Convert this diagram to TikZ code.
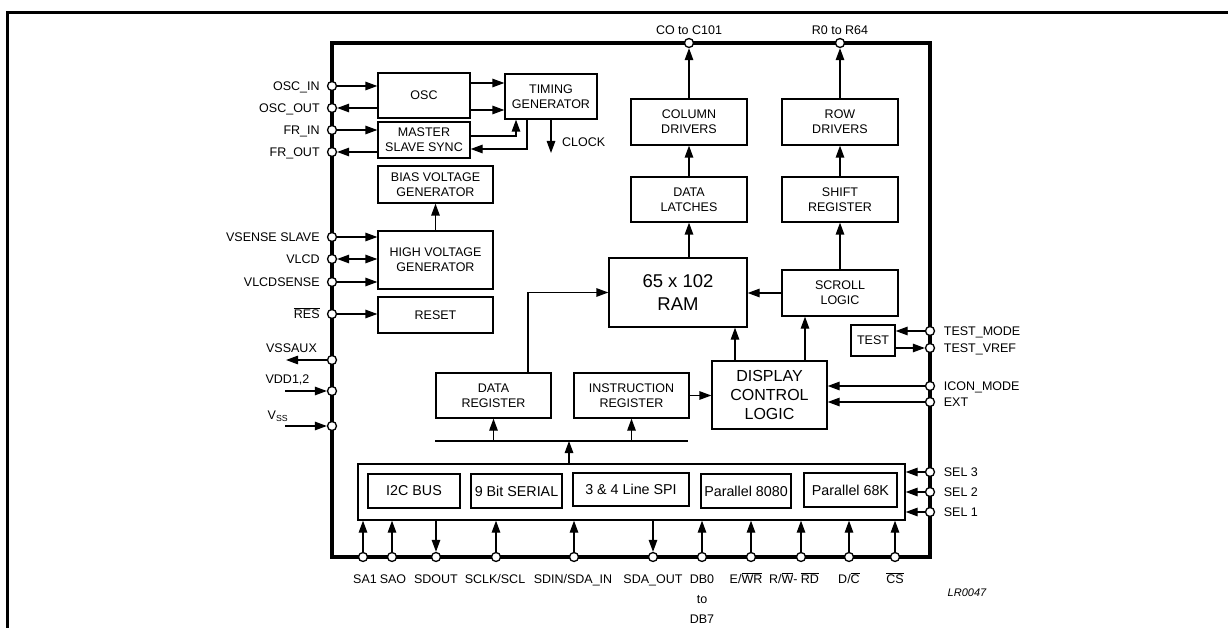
\documentclass[tikz,border=0pt]{standalone}
\usepackage{fontspec}
\setmainfont{Liberation Sans}
\usetikzlibrary{arrows.meta,positioning,calc}

\newcommand{\barsig}[1]{$\overline{\mbox{#1}}$}

\tikzset{
  blk/.style={draw, line width=1.3pt, align=center, inner sep=1pt, font=\fontsize{12.5}{15}\selectfont},
  ifbox/.style={blk, minimum height=34pt, font=\fontsize{14.3}{16}\selectfont},
  pin/.style={circle, draw, fill=white, line width=1.3pt, inner sep=0pt, minimum size=9pt},
  lbl/.style={font=\fontsize{12.5}{15}\selectfont, inner sep=1pt},
  pinlbl/.style={lbl, text height=9pt, text depth=0pt},
  arr/.style={line width=1.3pt, -{Triangle[length=12pt,width=8.5pt]}},
  darr/.style={line width=1.3pt, {Triangle[length=12pt,width=8.5pt]}-{Triangle[length=12pt,width=8.5pt]}},
}

\begin{document}
\begin{tikzpicture}[x=1pt,y=-1pt]
    \useasboundingbox (0,0) rectangle (1228,628);
    % page frame
    \draw[line width=3pt] (7,629) -- (7,13) -- (1229,13);

    % chip outline
    \node[draw, line width=3.2pt, minimum width=598pt, minimum height=514pt, inner sep=0pt] (chip) at (631,300) {};

    % clock section
    \node[blk, minimum width=92pt, minimum height=45pt] (osc) at (424,95.5) {OSC};
    \node[blk, minimum width=92pt, minimum height=45pt] (timgen) at (551,96.5) {TIMING\\GENERATOR};
    \node[blk, minimum width=92pt, minimum height=36pt] (mss) at (424,140) {MASTER\\SLAVE SYNC};

    % voltage section
    \node[blk, minimum width=115pt, minimum height=37pt] (bias) at (435.5,184.5) {BIAS VOLTAGE\\GENERATOR};
    \node[blk, minimum width=115pt, minimum height=58pt] (hv) at (435.5,260) {HIGH VOLTAGE\\GENERATOR};
    \node[blk, minimum width=115pt, minimum height=36pt] (reset) at (435.5,315) {RESET};

    % drivers and memory
    \node[blk, minimum width=116pt, minimum height=46pt] (coldrv) at (689,122) {COLUMN\\DRIVERS};
    \node[blk, minimum width=116pt, minimum height=46pt] (rowdrv) at (840,122) {ROW\\DRIVERS};
    \node[blk, minimum width=116pt, minimum height=45pt] (latch) at (689,199.5) {DATA\\LATCHES};
    \node[blk, minimum width=116pt, minimum height=45pt] (shift) at (840,199.5) {SHIFT\\REGISTER};
    \node[blk, minimum width=138pt, minimum height=69pt, font=\fontsize{18.5}{23}\selectfont] (ram) at (678,292.5) {65 x 102\\RAM};
    \node[blk, minimum width=116pt, minimum height=46pt] (scroll) at (840,293) {SCROLL\\LOGIC};
    \node[blk, minimum width=44pt, minimum height=31pt] (test) at (873,340.5) {TEST};

    % registers and control
    \node[blk, minimum width=115pt, minimum height=45pt] (dreg) at (493.5,395.5) {DATA\\REGISTER};
    \node[blk, minimum width=115pt, minimum height=45pt] (ireg) at (631.5,395.5) {INSTRUCTION\\REGISTER};
    \node[blk, minimum width=115pt, minimum height=68pt, font=\fontsize{16}{18.7}\selectfont] (dcl) at (769.5,395) {DISPLAY\\CONTROL\\LOGIC};

    % interface block
    \node[blk, minimum width=547pt, minimum height=56pt] (iface) at (631.5,492) {};
    \node[ifbox, minimum width=92pt] (i2c) at (414,491) {I2C BUS};
    \node[ifbox, minimum width=91pt] (ser9) at (516.5,491) {9 Bit SERIAL};
    \node[ifbox, minimum width=116pt, minimum height=33pt] (spi) at (631,489.5) {3 \& 4 Line SPI};
    \node[ifbox, minimum width=90pt] (p8080) at (746,491) {Parallel 8080};
    \node[ifbox, minimum width=93pt] (p68k) at (850.5,490) {Parallel 68K};

    % pins on the left side
    \foreach \nm/\yy/\txt in {oscin/86/OSC\_IN, oscout/108/OSC\_OUT, frin/130/FR\_IN, frout/152/FR\_OUT,
        vsense/237/VSENSE SLAVE, vlcd/259/VLCD, vlcdsense/282/VLCDSENSE, res/314/\barsig{RES}}
        \node[pin, label={[pinlbl,label distance=6pt]left:\txt}] (\nm) at (332,\yy) {};
    \foreach \nm/\yy in {vssaux/360, vdd/391, vss/426}
        \node[pin] (\nm) at (332,\yy) {};

    % pins on the right side
    \foreach \nm/\yy/\txt in {tmode/331/TEST\_MODE, tvref/348/TEST\_VREF, icon/386/ICON\_MODE, ext/402/EXT,
        sel3/472/SEL 3, sel2/492/SEL 2, sel1/512/SEL 1}
        \node[pin, label={[pinlbl,label distance=7.5pt]right:\txt}] (\nm) at (930,\yy) {};

    % pins on top
    \node[pin, label={[pinlbl,label distance=2pt]above:CO to C101}] (colout) at (689,43) {};
    \node[pin, label={[pinlbl,label distance=2pt]above:R0 to R64}] (rowout) at (840,43) {};

    % pins at the bottom
    \foreach \nm/\xx/\dx/\txt in {sa1/363/2/SA1, sao/392/1/SAO, sdout/436/0/SDOUT, sclk/496/-1/{SCLK/SCL},
        sdin/574/-1/{SDIN/SDA\_IN}, sdaout/653/0/SDA\_OUT, ewr/751/-5/{E/\barsig{WR}},
        rwrd/801/-7/{R/\barsig{W}- \barsig{RD}}, dc/849/0/{D/\barsig{C}}, cs/895/0/\barsig{CS}}
        \node[pin, label={[pinlbl,label distance=11pt,xshift=\dx pt]below:\txt}] (\nm) at (\xx,557) {};
    \node[pin, label={[lbl,align=center,font=\fontsize{12.5}{20}\selectfont,label distance=11pt]below:DB0\\to\\DB7}] (db) at (702,557) {};
    \node[lbl, font=\fontsize{11}{13}\selectfont\itshape] (lrcode) at (967,593) {LR0047};

    % clock connections
    \draw[arr] (oscin) -- (osc.west |- oscin);
    \draw[arr] (osc.west |- oscout) -- (oscout);
    \draw[arr] (osc.east |- 0,83) -- (timgen.west |- 0,83);
    \draw[arr] (osc.east |- 0,110) -- (timgen.west |- 0,110);
    \draw[arr] (frin) -- (mss.west |- frin);
    \draw[arr] (mss.west |- frout) -- (frout);
    \draw[arr] (mss.east |- 0,136) -| (timgen.south -| 516,0);
    \draw[arr] (timgen.south -| 527,0) |- (mss.east |- 0,149);
    \coordinate (clk) at (551,153);
    \draw[arr] (timgen.south -| clk) -- (clk);
    \node[lbl, anchor=west] (clklbl) at (561,142) {CLOCK};

    % voltage connections
    \draw[arr] (vsense) -- (hv.west |- vsense);
    \draw[darr] (vlcd) -- (hv.west |- vlcd);
    \draw[arr] (vlcdsense) -- (hv.west |- vlcdsense);
    \draw[arr] (res) -- (reset.west |- res);
    \draw[arr] (hv.north) -- (bias.south);

    % supply pins
    \coordinate (vssauxend) at (286,360);
    \draw[arr] (vssaux) -- (vssauxend);
    \node[lbl] (vssauxlbl) at (291.5,348) {VSSAUX};
    \coordinate (vddstart) at (285,391);
    \draw[arr] (vddstart) -- (vdd);
    \node[lbl] (vddlbl) at (287.5,380) {VDD1,2};
    \coordinate (vssstart) at (285,426);
    \draw[arr] (vssstart) -- (vss);
    \node[lbl] (vsslbl) at (278,416) {V\textsubscript{SS}};

    % data path
    \draw[arr] (coldrv.north) -- (colout);
    \draw[arr] (rowdrv.north) -- (rowout);
    \draw[arr] (latch.north) -- (coldrv.south);
    \draw[arr] (shift.north) -- (rowdrv.south);
    \draw[arr] (ram.north -| latch.south) -- (latch.south);
    \draw[arr] (scroll.north) -- (shift.south);
    \draw[arr] (scroll.west) -- (ram.east |- scroll.west);
    \draw[arr] (dcl.north -| 735,0) -- (ram.south -| 735,0);
    \draw[arr] (dcl.north -| 805,0) -- (scroll.south -| 805,0);
    \draw[arr] (dreg.north -| 528,0) |- (ram.west);
    \draw[arr] (ireg.east) -- (dcl.west |- ireg.east);
    \draw[arr] (tmode) -- (test.east |- tmode);
    \draw[arr] (test.east |- tvref) -- (tvref);
    \draw[arr] (icon) -- (dcl.east |- icon);
    \draw[arr] (ext) -- (dcl.east |- ext);

    % internal bus
    \coordinate (busl) at (435,441);
    \coordinate (busr) at (688,441);
    \draw[line width=1.3pt] (busl) -- (busr);
    \draw[arr] (iface.north -| 569,0) -- (busl -| 569,0);
    \draw[arr] (busl -| dreg.south) -- (dreg.south);
    \draw[arr] (busl -| ireg.south) -- (ireg.south);

    % interface pins
    \foreach \nm in {sel3, sel2, sel1}
        \draw[arr] (\nm) -- (iface.east |- \nm);
    \foreach \nm in {sa1, sao, sclk, sdin, db, ewr, rwrd, dc, cs}
        \draw[arr] (\nm) -- (iface.south -| \nm);
    \foreach \nm in {sdout, sdaout}
        \draw[arr] (iface.south -| \nm) -- (\nm);
\end{tikzpicture}
\end{document}
